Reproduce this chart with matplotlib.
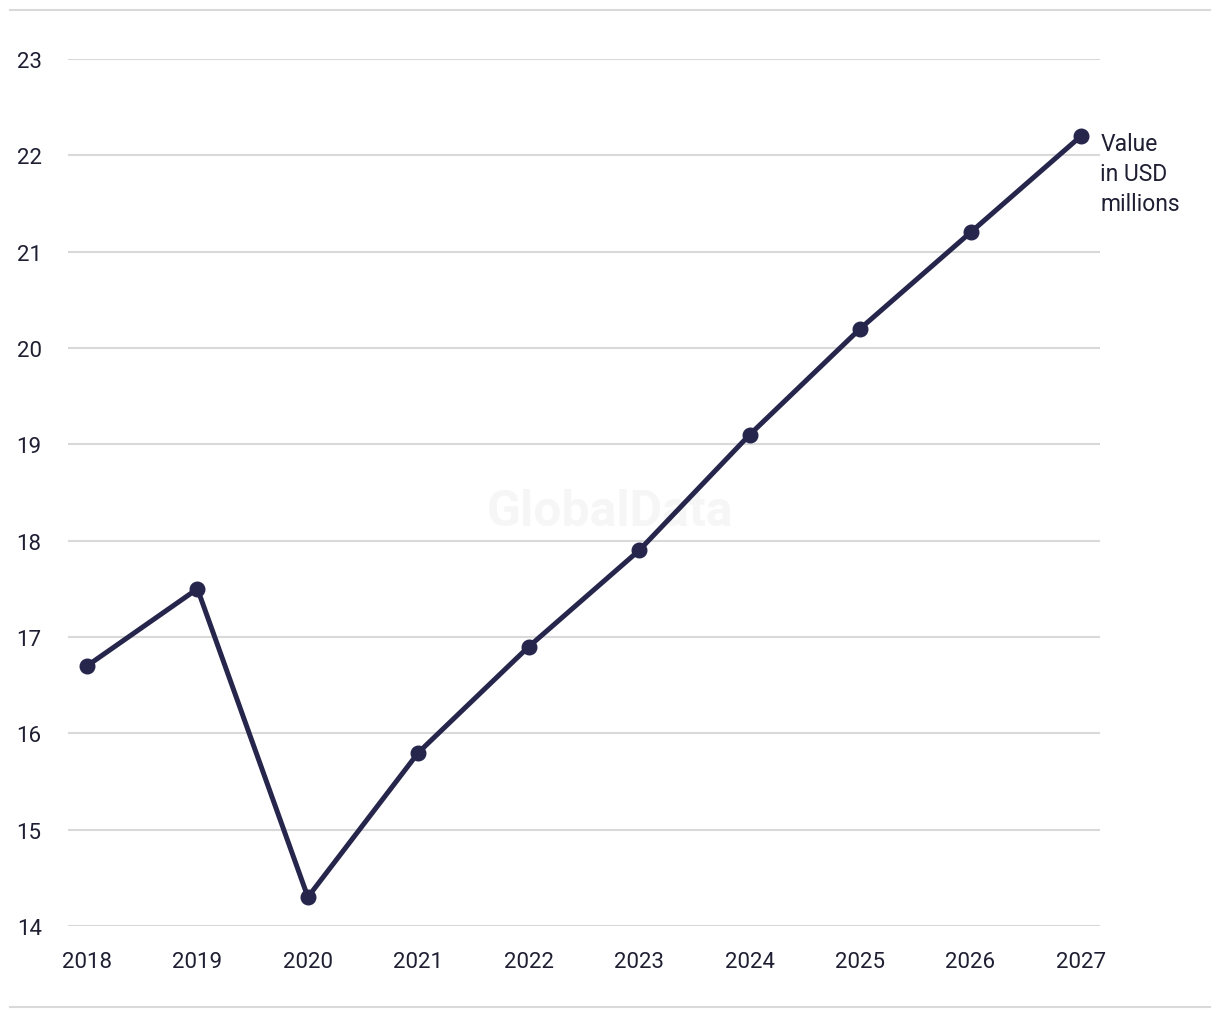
import matplotlib
matplotlib.use("Agg")
import matplotlib.pyplot as plt
from matplotlib.lines import Line2D

years = [2018, 2019, 2020, 2021, 2022, 2023, 2024, 2025, 2026, 2027]
values = [16.7, 17.5, 14.3, 15.8, 16.9, 17.9, 19.1, 20.2, 21.2, 22.2]
yticks = [14, 15, 16, 17, 18, 19, 20, 21, 22, 23]
series_label = "Value\nin USD\nmillions"

plt.rcParams['font.family'] = ['Roboto', 'DejaVu Sans']
W, H = 1220, 1020
fig = plt.figure(figsize=(W / 100, H / 100), dpi=100)
ax = fig.add_axes([68 / W, (H - 927) / H, (1100 - 68) / W, (927 - 60) / H])

line_color = "#26264d"
text_color = "#1f1f33"

ax.set_xlim(2018 - 19 / 110.44, 2027 + 19 / 110.44)
ax.set_ylim(14, 23)
ax.set_yticks(yticks)
ax.set_xticks(years)
ax.set_xticklabels([str(y) for y in years])
ax.grid(axis='y', color="#d9d9d9", linewidth=1.5)
ax.set_axisbelow(True)
for s in ax.spines.values():
    s.set_visible(False)
ax.tick_params(axis='both', length=0, labelsize=16, labelcolor=text_color)
ax.tick_params(axis='y', pad=19)
ax.tick_params(axis='x', pad=18)

ax.plot(years, values, color=line_color, linewidth=3.6, marker='o',
        markersize=10.5, clip_on=False, zorder=3)

ax.text((610 - 68) / (1100 - 68), (927 - 512) / (927 - 60), "GlobalData",
        transform=ax.transAxes, ha='center', va='center',
        fontsize=36, fontweight='bold', color="#f6f6f6", zorder=0)

ax.annotate(series_label, xy=(years[-1], values[-1]), xytext=(14, 3),
            textcoords='offset points', ha='left', va='top', fontsize=16.5,
            color=text_color, linespacing=1.38)

fig.add_artist(Line2D([10 / W, 1210 / W], [(H - 11) / H, (H - 11) / H],
                      color="#d9d9d9", linewidth=1.5))
fig.add_artist(Line2D([10 / W, 1210 / W], [(H - 1008) / H, (H - 1008) / H],
                      color="#d9d9d9", linewidth=1.5))

fig.savefig("out.png", dpi=100, facecolor="white")
